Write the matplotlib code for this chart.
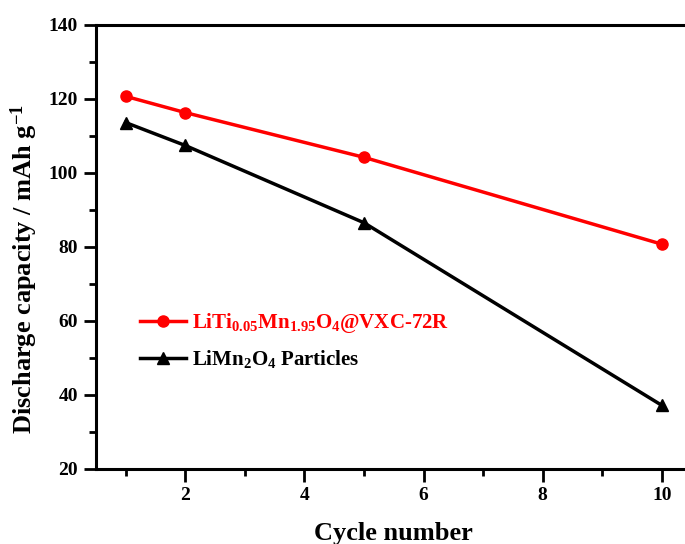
import matplotlib
matplotlib.use('Agg')
import matplotlib.pyplot as plt

# 循環次數與放電容量
cycles = [1, 2, 5, 10]
capacity_coated = [120.7, 116.3, 104.2, 80.7]
capacity_bare = [113.6, 107.4, 86.5, 37.1]
label_coated = r'LiTi$_{0.05}$Mn$_{1.95}$O$_{4}$@VXC-72R'
label_bare = r'LiMn$_{2}$O$_{4}$ Particles'

plt.rcParams['font.family'] = 'Liberation Serif'
plt.rcParams['font.weight'] = 'bold'
plt.rcParams['mathtext.fontset'] = 'custom'
plt.rcParams['mathtext.rm'] = 'Liberation Serif:bold'
plt.rcParams['mathtext.it'] = 'Liberation Serif:bold'
plt.rcParams['mathtext.bf'] = 'Liberation Serif:bold'
plt.rcParams['mathtext.default'] = 'rm'

fig = plt.figure(figsize=(6.85, 5.44), dpi=100)
ax = fig.add_axes([0.140, 0.1386, 0.8697, 0.8155])

ax.plot(cycles, capacity_coated, color='#ff0000', marker='o', markersize=8,
        linewidth=2.5, label=label_coated)
ax.plot(cycles, capacity_bare, color='black', marker='^', markersize=8,
        linewidth=2.5, label=label_bare)

ax.set_xlim(0.5, 10.5)
ax.set_ylim(20, 140)
ax.set_xticks([2, 4, 6, 8, 10])
ax.set_xticks(range(1, 11), minor=True)
ax.set_yticks(range(20, 141, 20))
ax.set_yticks(range(30, 140, 20), minor=True)
ax.tick_params(which='major', direction='out', length=9, width=2, labelsize=14, pad=4)
ax.tick_params(which='minor', direction='out', length=5, width=2)
for s in ax.spines.values():
    s.set_linewidth(2.2)
ax.spines['right'].set_visible(False)

ax.set_xlabel('Cycle number', fontsize=19, fontweight='bold', labelpad=13)
ax.set_ylabel(r'Discharge capacity / mAh g$^{-1}$', fontsize=19, fontweight='bold')
ax.yaxis.set_label_coords(-0.094, 0.45)

leg = ax.legend(loc='upper left', bbox_to_anchor=(0.06, 0.373), frameon=False,
                fontsize=15, handlelength=2.2, handletextpad=0.3, labelspacing=0.6,
                borderaxespad=0)
leg.get_texts()[0].set_color('#ff0000')

fig.savefig('out.png', dpi=100)
